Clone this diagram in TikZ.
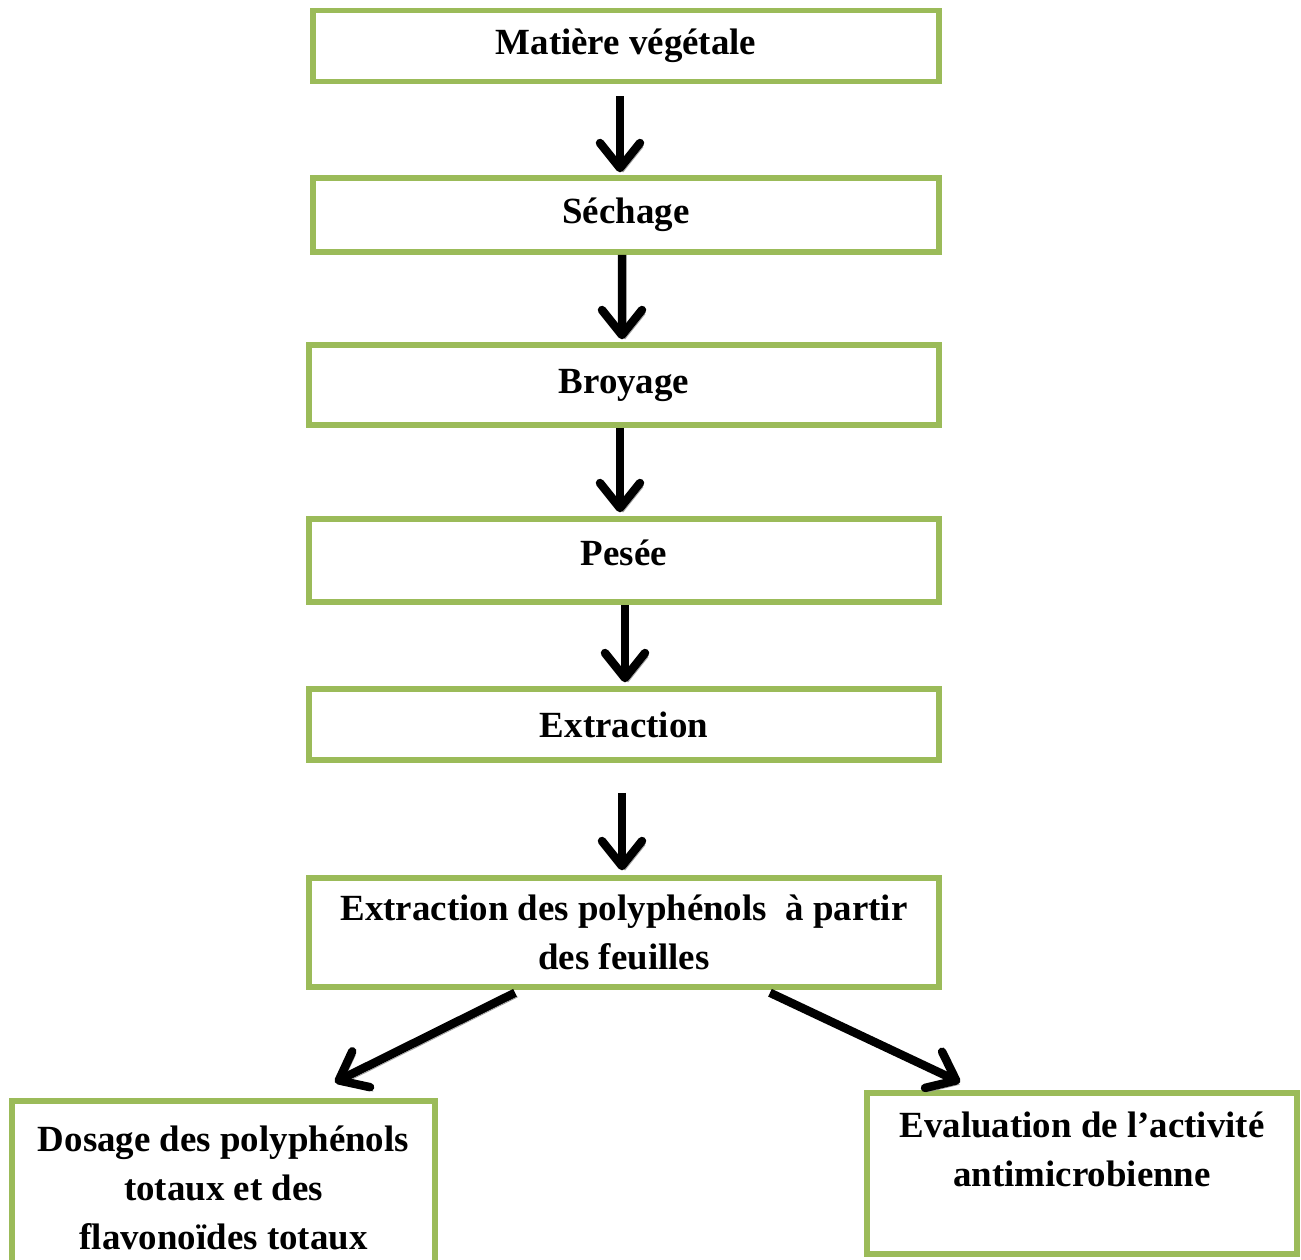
\documentclass[tikz,border=0pt]{standalone}
\usepackage{fontspec}
\setmainfont{Liberation Serif}
\usetikzlibrary{arrows.meta, positioning}
\definecolor{leafgreen}{HTML}{9BBB59}
\begin{document}
\begin{tikzpicture}[x=0.02cm, y=-0.02cm,
    every node/.style={font=\fontsize{21}{27.8}\selectfont\bfseries},
    stepbox/.style={draw=leafgreen, line width=0.11cm, rectangle, align=center, inner sep=0pt},
    flow/.style={line width=0.17cm, -{Straight Barb[length=0.5cm, width=0.8cm, round]},
        preaction={draw=black!40, transform canvas={xshift=0.06cm, yshift=-0.08cm}}}]
    \useasboundingbox (0,0) rectangle (1301,1259);

    \node[stepbox, minimum width=12.52cm, minimum height=1.42cm] (mat) at (626,46) {Matière végétale};
    \node[stepbox, minimum width=12.52cm, minimum height=1.48cm] (sech) at (626,215) {Séchage};
    \node[stepbox, minimum width=12.6cm, minimum height=1.6cm] (broy) at (624,385) {Broyage};
    \node[stepbox, minimum width=12.6cm, minimum height=1.66cm, text depth=0.3cm] (pes) at (624,560.5) {Pesée};
    \node[stepbox, minimum width=12.6cm, minimum height=1.42cm] (extr) at (624,724.5) {Extraction};
    \node[stepbox, minimum width=12.6cm, minimum height=2.18cm] (poly) at (624,932.5)
        {Extraction des polyphénols~ à partir\\des feuilles};
    \node[stepbox, minimum width=8.46cm, minimum height=3.48cm] (dos) at (223.5,1188)
        {Dosage des polyphénols\\totaux et des\\flavonoïdes totaux};
    \node[stepbox, minimum width=8.6cm, minimum height=3.22cm] (eval) at (1082,1173.5)
        {Evaluation de l’activité\\antimicrobienne\\\mbox{}};

    \draw[flow, shorten <=0.24cm] ([xshift=-0.12cm]mat.south) -- ([xshift=-0.12cm, yshift=0.06cm]sech.north);
    \draw[flow] ([xshift=-0.08cm]sech.south) -- ([xshift=-0.04cm, yshift=0.06cm]broy.north);
    \draw[flow] ([xshift=-0.08cm]broy.south) -- ([xshift=-0.08cm, yshift=0.08cm]pes.north);
    \draw[flow] ([xshift=0.02cm]pes.south) -- ([xshift=0.02cm, yshift=0.08cm]extr.north);
    \draw[flow, shorten <=0.6cm] ([xshift=-0.04cm]extr.south) -- ([xshift=-0.04cm, yshift=0.1cm]poly.north);
    \draw[flow] ([xshift=-2.18cm, yshift=-0.06cm]poly.south) -- ([xshift=2.23cm, yshift=0.32cm]dos.north);
    \draw[flow] ([xshift=2.92cm, yshift=-0.06cm]poly.south) -- ([xshift=-2.44cm, yshift=0.16cm]eval.north);
\end{tikzpicture}
\end{document}
